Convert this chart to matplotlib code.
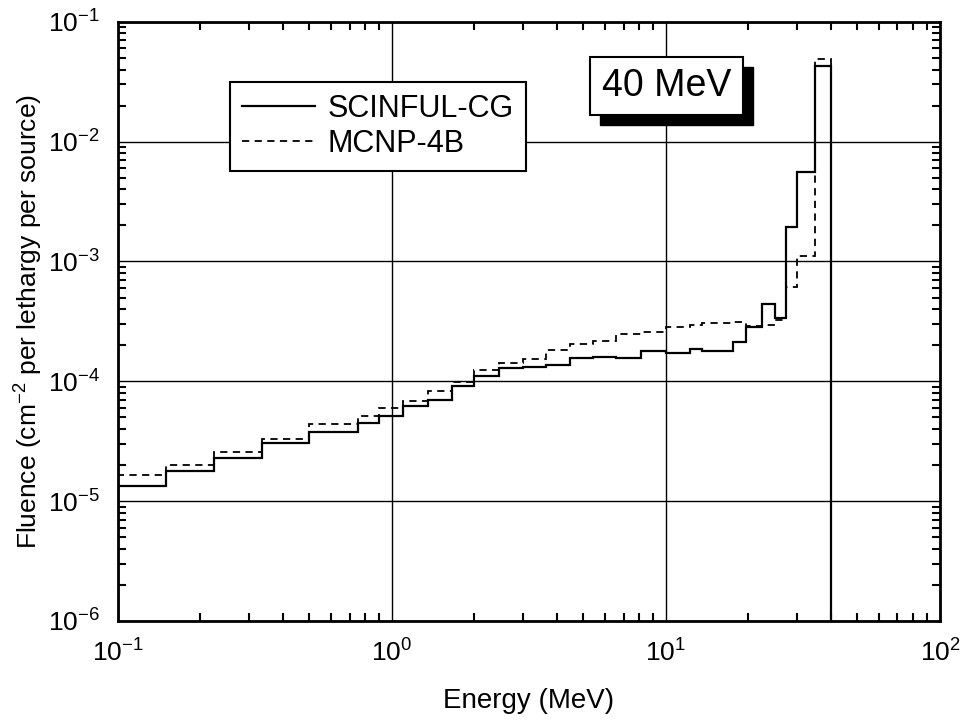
import matplotlib
matplotlib.use('Agg')
import matplotlib.pyplot as plt
import numpy as np
from matplotlib.patches import Rectangle
from matplotlib.ticker import LogLocator, NullFormatter

plt.rcParams['font.family'] = ['Liberation Sans', 'DejaVu Sans']
plt.rcParams['mathtext.fontset'] = 'custom'
plt.rcParams['mathtext.rm'] = 'Liberation Sans'
plt.rcParams['axes.unicode_minus'] = False

# Bin edges (MeV)
edges = [0.1, 0.15, 0.225, 0.335, 0.5, 0.75, 0.9, 1.1, 1.35, 1.65, 2.0,
         2.45, 3.0, 3.65, 4.45, 5.4, 6.6, 8.1, 10.0, 12.2, 13.5, 17.5,
         19.6, 22.4, 25.0, 27.5, 30.0, 35.0, 40.0]

# SCINFUL-CG fluence per bin
scinful = [1.34e-5, 1.80e-5, 2.27e-5, 3.04e-5, 3.80e-5, 4.52e-5, 5.17e-5,
           6.23e-5, 7.0e-5, 9.15e-5, 1.11e-4, 1.29e-4, 1.31e-4, 1.37e-4,
           1.56e-4, 1.59e-4, 1.58e-4, 1.79e-4, 1.72e-4, 1.85e-4, 1.80e-4,
           2.14e-4, 2.83e-4, 4.43e-4, 3.36e-4, 1.95e-3, 5.62e-3, 4.32e-2]

# MCNP-4B fluence per bin
mcnp = [1.66e-5, 2.0e-5, 2.59e-5, 3.29e-5, 4.41e-5, 5.14e-5, 5.96e-5,
        6.90e-5, 8.32e-5, 9.95e-5, 1.24e-4, 1.43e-4, 1.53e-4, 1.83e-4,
        2.05e-4, 2.19e-4, 2.49e-4, 2.60e-4, 2.83e-4, 2.96e-4, 3.07e-4,
        3.15e-4, 2.88e-4, 2.96e-4, 3.26e-4, 6.18e-4, 1.12e-3, 4.89e-2]

fig = plt.figure(figsize=(9.67, 7.28), dpi=100)
ax = fig.add_axes([0.122, 0.147, 0.850, 0.823])

ax.stairs(mcnp, edges, baseline=1e-7, color='black', linewidth=1.3,
          linestyle=(0, (4, 3)), label='MCNP-4B', zorder=3)
ax.stairs(scinful, edges, baseline=1e-7, color='black', linewidth=1.6,
          label='SCINFUL-CG', zorder=4)

ax.set_xscale('log')
ax.set_yscale('log')
ax.set_xlim(0.1, 100)
ax.set_ylim(1e-6, 1e-1)

ax.xaxis.set_minor_locator(LogLocator(base=10, subs=np.arange(2, 10)))
ax.yaxis.set_minor_locator(LogLocator(base=10, subs=np.arange(2, 10)))
ax.xaxis.set_minor_formatter(NullFormatter())
ax.yaxis.set_minor_formatter(NullFormatter())

ax.grid(True, which='major', color='black', linewidth=1.0)
for s in ax.spines.values():
    s.set_linewidth(2)

ax.tick_params(which='both', direction='in', top=True, right=True,
               labelsize=19, width=1.5)
ax.tick_params(which='major', length=0, pad=13)
ax.tick_params(which='minor', length=6)

ax.set_xlabel('Energy (MeV)', fontsize=20, labelpad=16)
ax.set_ylabel('Fluence (cm$^{-2}$ per lethargy per source)', fontsize=19)
ax.yaxis.set_label_coords(-0.09, 0.5)

handles, labels = ax.get_legend_handles_labels()
leg = ax.legend(handles[::-1], labels[::-1], loc='upper left',
                bbox_to_anchor=(0.136, 0.900), fontsize=22, frameon=True,
                fancybox=False, framealpha=1, edgecolor='black',
                handlelength=2.4, labelspacing=0.15, borderpad=0.4,
                handletextpad=0.4, borderaxespad=0)
leg.get_frame().set_linewidth(1.5)
leg.set_zorder(10)

# "40 MeV" label with drop shadow
ax.add_patch(Rectangle((0.586, 0.827), 0.186, 0.097, transform=ax.transAxes,
                       facecolor='black', edgecolor='black', zorder=8))
ax.add_patch(Rectangle((0.574, 0.845), 0.186, 0.097, transform=ax.transAxes,
                       facecolor='white', edgecolor='black', linewidth=1.5,
                       zorder=9))
ax.text(0.667, 0.893, '40 MeV', transform=ax.transAxes, fontsize=27,
        ha='center', va='center', zorder=11)

fig.savefig('out.png', dpi=100)
